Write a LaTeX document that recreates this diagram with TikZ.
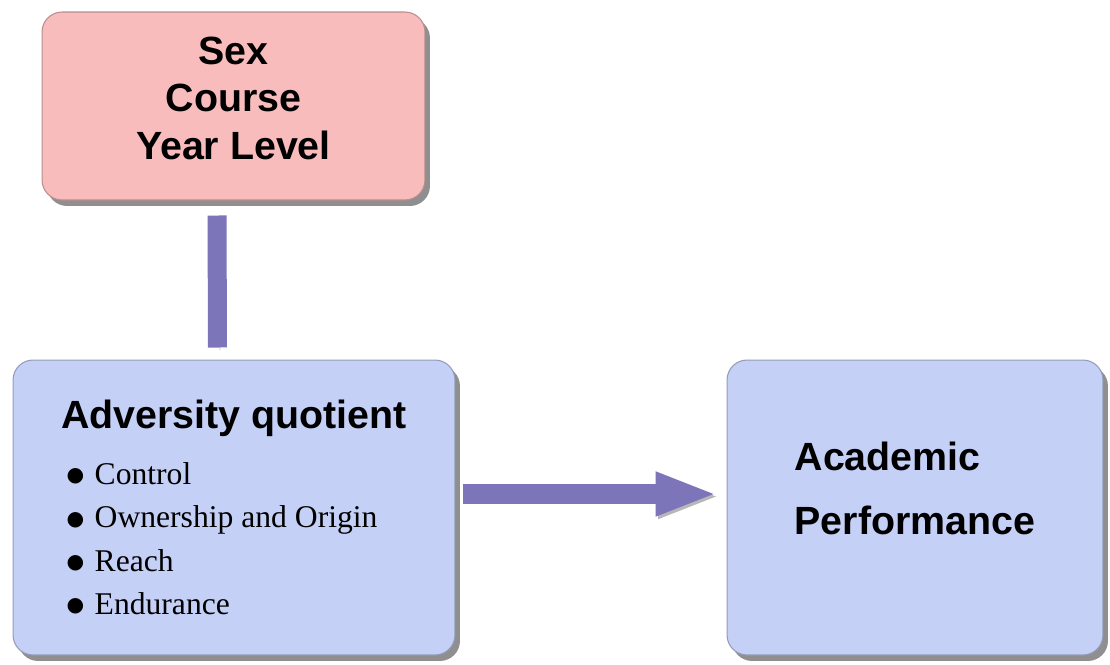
\documentclass[tikz,border=0pt]{standalone}
\usepackage{fontspec}
\setmainfont{Liberation Serif}
\newfontfamily\headfont{Liberation Sans}
\newfontfamily\symfont{DejaVu Sans}
\usetikzlibrary{arrows.meta,shadows}

\definecolor{pinkfill}{RGB}{249,188,188}
\definecolor{bluefill}{RGB}{197,208,246}
\definecolor{barcol}{RGB}{124,117,185}

% one bulleted line of the adversity list
\newcommand\aqitem[1]{\hspace*{3pt}\raisebox{1.5pt}{\symfont\fontsize{11.5}{11.5}\selectfont ●}\hspace{6pt}#1}

\tikzset{
  box/.style={rounded corners=0.4cm, draw=#1!75!black, line width=0.6pt, fill=#1,
    drop shadow={shadow xshift=0.1cm, shadow yshift=-0.12cm, opacity=0.55, fill=black!80}},
  bar/.style={line width=0.38cm, draw=barcol,
    preaction={draw=black!70, opacity=0.4, transform canvas={shift={(0.05cm,-0.05cm)}}}},
  flow/.style={line width=0.4cm, draw=barcol, -{Triangle[length=1.24cm,width=0.8cm]},
    preaction={draw=black!70, opacity=0.4, transform canvas={shift={(0.05cm,-0.05cm)}}}}
}

\begin{document}
\begin{tikzpicture}[x=0.02cm,y=0.02cm]
  \useasboundingbox (0,0) rectangle (1110,664);
  % boxes
  \node[box=pinkfill, minimum width=7.66cm, minimum height=3.76cm, align=center,
    font=\headfont\bfseries\fontsize{22.4}{27.2}\selectfont, text depth=9pt] (demo) at (233.5,558)
    {Sex\\Course\\Year Level};
  \node[box=bluefill, minimum width=8.84cm, minimum height=5.9cm, align=left,
    font=\fontsize{18}{24.7}\selectfont] (aq) at (234,156.5)
    {{\headfont\bfseries\fontsize{22.4}{27}\selectfont Adversity quotient}\\[7pt]
     \aqitem{Control}\\\aqitem{Ownership and Origin}\\\aqitem{Reach}\\\aqitem{Endurance}};
  \node[box=bluefill, minimum width=7.52cm, minimum height=5.9cm, align=left,
    font=\headfont\bfseries\fontsize{22.4}{36.8}\selectfont, text depth=22pt] (ap) at (915,156.5)
    {Academic\\Performance};
  % links
  \draw[bar, shorten <=0.3cm, shorten >=0.24cm] ([xshift=-0.33cm]demo.south) -- ([xshift=-0.33cm]aq.north);
  \draw[flow, shorten <=0.16cm, shorten >=0.18cm] ([yshift=0.27cm]aq.east) -- ([yshift=0.27cm]ap.west);
\end{tikzpicture}
\end{document}
